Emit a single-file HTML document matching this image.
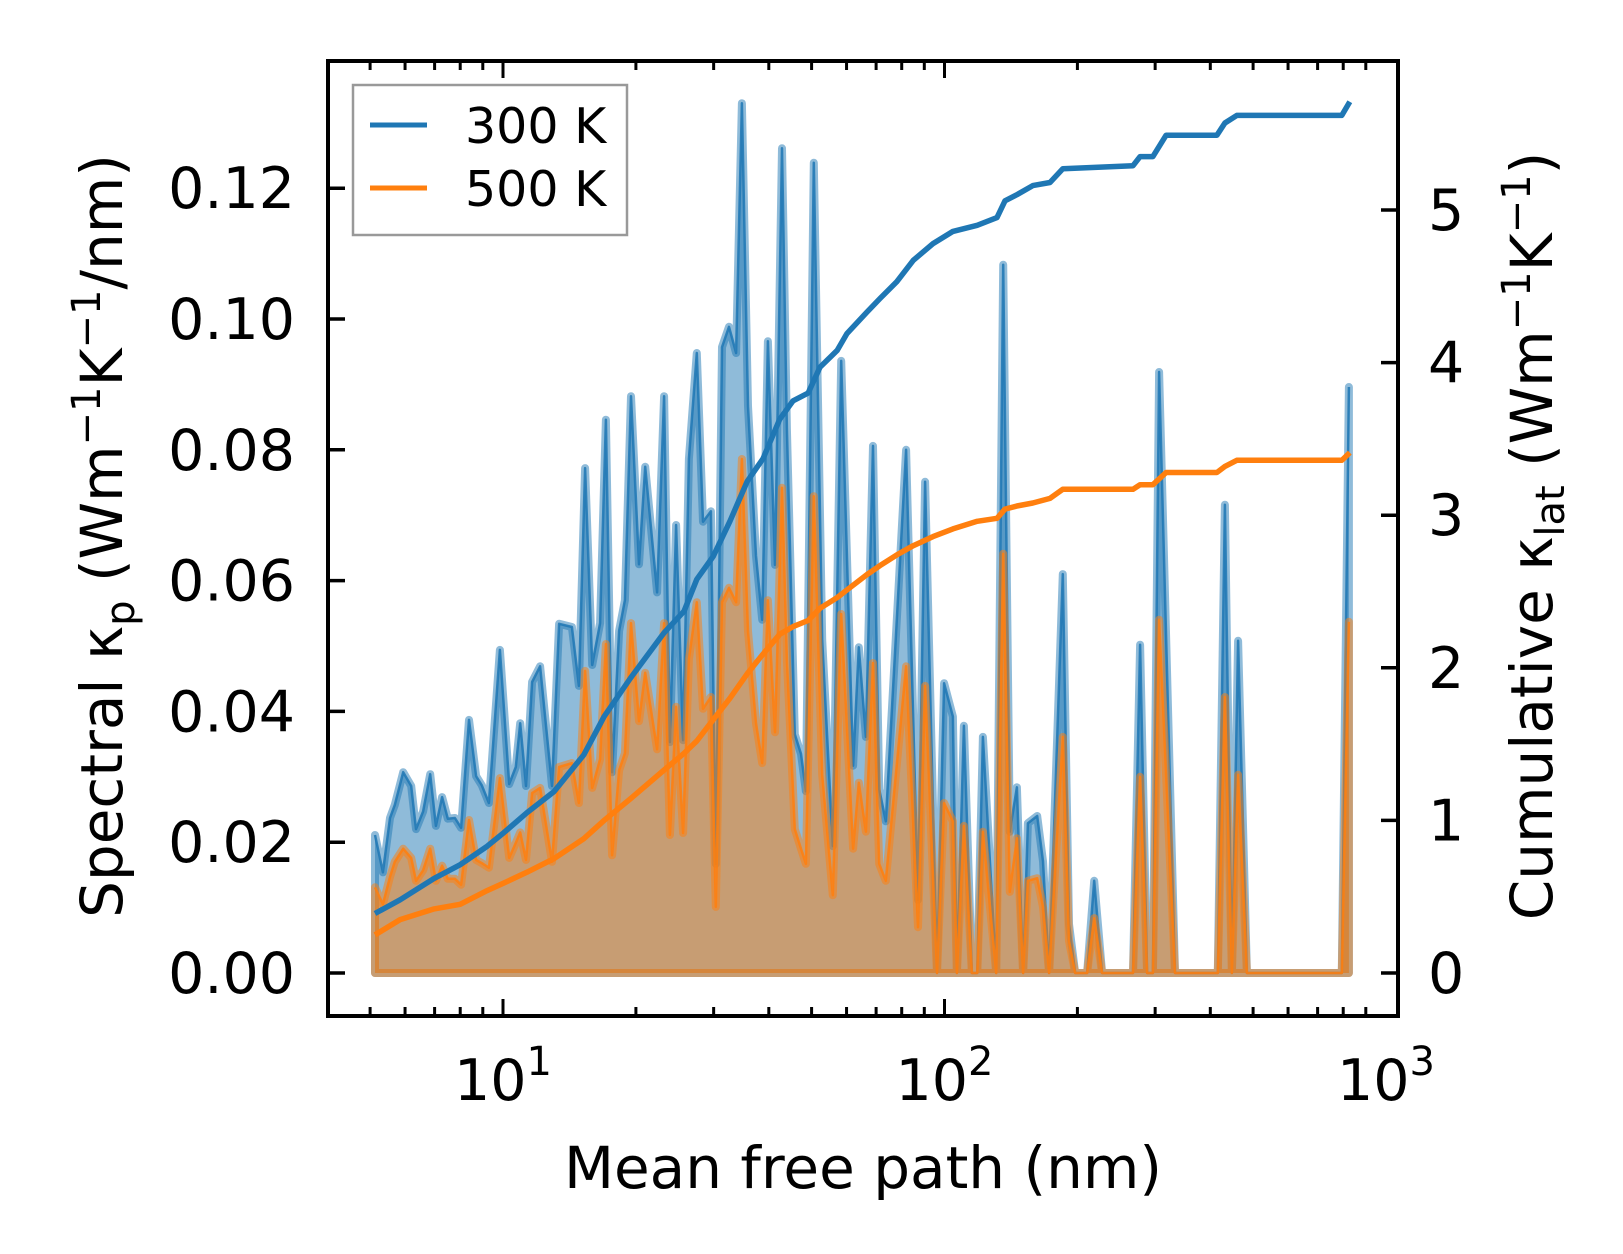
<!DOCTYPE html>
<html><head><meta charset="utf-8"><style>
html,body{margin:0;padding:0;background:#fff;}
svg{display:block;font-family:"DejaVu Sans","Liberation Sans",sans-serif;}
</style></head><body>
<svg id="chart" width="1623" height="1254" viewBox="0 0 1623 1254" xmlns="http://www.w3.org/2000/svg">
<g id="marks"></g>
<g id="axes"></g>
<text x="863" y="1188" font-size="58" text-anchor="middle">Mean free path (nm)</text>
<text transform="translate(122,536) rotate(-90)" font-size="58" text-anchor="middle">Spectral κ<tspan font-size="40" dy="12">p</tspan><tspan dy="-12"> (Wm</tspan><tspan font-size="40" dy="-22">−1</tspan><tspan dy="22">K</tspan><tspan font-size="40" dy="-22">−1</tspan><tspan dy="22">/nm)</tspan></text>
<text transform="translate(1552,536) rotate(-90)" font-size="58" text-anchor="middle">Cumulative κ<tspan font-size="40" dy="12">lat</tspan><tspan dy="-12"> (Wm</tspan><tspan font-size="40" dy="-22">−1</tspan><tspan dy="22">K</tspan><tspan font-size="40" dy="-22">−1</tspan><tspan dy="22">)</tspan></text>
<g>
<rect x="353" y="85" width="274" height="150" fill="#fff" fill-opacity="0.8" stroke="#999" stroke-width="2.5"/>
<line x1="370" y1="125" x2="427" y2="125" stroke="#1f77b4" stroke-width="5"/>
<text x="465" y="143" font-size="49">300 K</text>
<line x1="370" y1="188" x2="427" y2="188" stroke="#ff7f0e" stroke-width="5"/>
<text x="465" y="206" font-size="49">500 K</text>
</g>
</svg>
<script>
// spectral data: log10(mean free path / nm)
const logMfp = [0.710,0.728,0.744,0.755,0.774,0.792,0.803,0.819,0.835,0.848,0.862,0.875,0.891,0.905,0.923,0.939,0.952,0.968,0.993,1.014,1.029,1.039,1.052,1.066,1.084,1.111,1.127,1.156,1.172,1.186,1.202,1.220,1.233,1.247,1.263,1.276,1.290,1.308,1.322,1.349,1.365,1.378,1.392,1.408,1.421,1.439,1.453,1.471,1.482,1.496,1.512,1.528,1.541,1.555,1.573,1.587,1.600,1.616,1.632,1.643,1.661,1.675,1.686,1.704,1.723,1.747,1.766,1.793,1.806,1.822,1.838,1.852,1.867,1.913,1.940,1.956,1.983,1.999,2.019,2.028,2.044,2.062,2.074,2.087,2.117,2.133,2.148,2.164,2.178,2.189,2.210,2.223,2.237,2.268,2.282,2.296,2.323,2.339,2.357,2.427,2.443,2.459,2.472,2.486,2.522,2.619,2.635,2.651,2.665,2.685,2.900,2.916];
const spec300 = [.0211,.0154,.0237,.0257,.0307,.0286,.0220,.0247,.0304,.0225,.0269,.0236,.0237,.0222,.0387,.0301,.0287,.0260,.0494,.0289,.0315,.0382,.0286,.0445,.0469,.0286,.0534,.0529,.0439,.0772,.0471,.0535,.0846,.0307,.0523,.0570,.0882,.0625,.0774,.0582,.0882,.0353,.0685,.0356,.0786,.0948,.0690,.0706,.0167,.0957,.0988,.0948,.1330,.0867,.0638,.0540,.0966,.0624,.1261,.0832,.0365,.0335,.0278,.1239,.0509,.0194,.0936,.0317,.0498,.0361,.0806,.0281,.0232,.0800,.0112,.0751,0,.0443,.0392,0,.0378,0,0,.0361,0,.1083,.0216,.0284,0,.0229,.0240,.0171,0,.0610,.0075,0,0,.0141,0,0,.0502,0,0,.0919,0,0,.0716,0,.0508,0,0,.0896];
const spec500 = [.0131,.0105,.0147,.0170,.0190,.0176,.0141,.0157,.0190,.0141,.0164,.0144,.0144,.0135,.0234,.0173,.0168,.0161,.0298,.0176,.0199,.0215,.0173,.0275,.0283,.0170,.0315,.0321,.0260,.0462,.0283,.0327,.0503,.0180,.0310,.0336,.0535,.0385,.0459,.0342,.0535,.0211,.0407,.0214,.0480,.0567,.0404,.0422,.0101,.0567,.0589,.0567,.0786,.0523,.0382,.0321,.0570,.0368,.0742,.0479,.0220,.0190,.0167,.0729,.0303,.0119,.0549,.0190,.0291,.0216,.0474,.0167,.0141,.0469,.0070,.0439,0,.0260,.0232,0,.0225,0,0,.0216,0,.0641,.0124,.0206,0,.0141,.0145,.0101,0,.0361,.0049,0,0,.0084,0,0,.0300,0,0,.0540,0,0,.0422,0,.0303,0,0,.0537];
// cumulative data
const cumLogMfp = [0.710,0.767,0.844,0.903,0.964,1.002,1.054,1.116,1.183,1.229,1.288,1.365,1.410,1.439,1.476,1.514,1.553,1.589,1.627,1.657,1.691,1.718,1.757,1.779,1.824,1.854,1.892,1.929,1.974,2.019,2.074,2.119,2.137,2.164,2.200,2.239,2.268,2.427,2.443,2.472,2.502,2.617,2.635,2.662,2.900,2.918];
const cum300 = [.39,.48,.62,.71,.83,.92,1.05,1.19,1.43,1.68,1.93,2.23,2.37,2.58,2.73,2.96,3.22,3.37,3.63,3.75,3.80,3.97,4.08,4.19,4.33,4.42,4.53,4.67,4.78,4.86,4.90,4.95,5.06,5.10,5.16,5.18,5.27,5.29,5.35,5.35,5.49,5.49,5.57,5.62,5.62,5.71];
const cum500 = [.25,.35,.42,.45,.54,.59,.66,.75,.88,1.00,1.14,1.33,1.44,1.52,1.66,1.80,1.96,2.09,2.22,2.27,2.31,2.39,2.46,2.51,2.61,2.67,2.74,2.80,2.86,2.91,2.96,2.98,3.04,3.06,3.08,3.11,3.17,3.17,3.20,3.20,3.28,3.28,3.32,3.36,3.36,3.41];
const leftTicks = [0,0.02,0.04,0.06,0.08,0.10,0.12];
const leftTickLabels = ["0.00","0.02","0.04","0.06","0.08","0.10","0.12"];
const rightTicks = [0,1,2,3,4,5];
const xMajorExp = [1,2,3];

const NS = "http://www.w3.org/2000/svg";
const X0 = 503, DEC = 441.5, Y0 = 973;
const xs = L => X0 + (L - 1) * DEC;
const yl = v => Y0 - v / 0.02 * 130.8;
const yr = v => Y0 - v * 152.6;
const FL = 328, FR = 1398, FT = 61, FB = 1016;
const marks = document.getElementById('marks');
const axes = document.getElementById('axes');
function mk(tag, attrs, parent) {
  const e = document.createElementNS(NS, tag);
  for (const k in attrs) e.setAttribute(k, attrs[k]);
  parent.appendChild(e);
  return e;
}
function areaPts(vals) {
  let p = xs(logMfp[0]).toFixed(1) + ',' + yl(0).toFixed(1);
  for (let i = 0; i < logMfp.length; i++) p += ' ' + xs(logMfp[i]).toFixed(1) + ',' + yl(vals[i]).toFixed(1);
  p += ' ' + xs(logMfp[logMfp.length - 1]).toFixed(1) + ',' + yl(0).toFixed(1);
  return p;
}
function linePts(vals) {
  return logMfp.map((L, i) => xs(L).toFixed(1) + ',' + yl(vals[i]).toFixed(1)).join(' ');
}
[[spec300, '#1f77b4', '300k'], [spec500, '#ff7f0e', '500k']].forEach(([vals, c, n]) => {
  const a = mk('polygon', {points: areaPts(vals), fill: c, 'fill-opacity': 0.5, stroke: c, 'stroke-opacity': 0.5, 'stroke-width': 8, 'stroke-linejoin': 'round'}, marks);
  
  
  const l = mk('polyline', {points: linePts(vals), fill: 'none', stroke: c, 'stroke-opacity': 0.85, 'stroke-width': 2.5, 'stroke-linejoin': 'round'}, marks);
  
  
});
[[cum300, '#1f77b4', '300k'], [cum500, '#ff7f0e', '500k']].forEach(([vals, c, n]) => {
  const pts = cumLogMfp.map((L, i) => xs(L).toFixed(1) + ',' + yr(vals[i]).toFixed(1)).join(' ');
  const l = mk('polyline', {points: pts, fill: 'none', stroke: c, 'stroke-width': 5.5, 'stroke-linejoin': 'round'}, marks);
  
  
});
// frame
const fr = mk('rect', {x: FL, y: FT, width: FR - FL, height: FB - FT, fill: 'none', stroke: '#000', 'stroke-width': 4}, axes);


// left ticks
leftTicks.forEach((v, i) => {
  const y = yl(v);
  const t = mk('line', {x1: FL, x2: FL + 17, y1: y, y2: y, stroke: '#000', 'stroke-width': 3.5}, axes);
  
  
  const tx = mk('text', {x: 295, y: y + 20, 'font-size': 57, 'text-anchor': 'end'}, axes);
  tx.textContent = leftTickLabels[i];
  
  
});
rightTicks.forEach(v => {
  const y = yr(v);
  const t = mk('line', {x1: FR - 17, x2: FR, y1: y, y2: y, stroke: '#000', 'stroke-width': 3.5}, axes);
  
  
  const tx = mk('text', {x: 1428, y: y + 20, 'font-size': 57}, axes);
  tx.textContent = String(v);
  
  
});
// x ticks
for (let e = 0; e <= 2; e++) {
  for (let m = 1; m <= 9; m++) {
    const L = e + Math.log10(m);
    const x = xs(L);
    if (x < FL + 2 || x > FR - 2) continue;
    const len = m === 1 ? 17 : 9;
    const b = mk('line', {x1: x, x2: x, y1: FB, y2: FB - len, stroke: '#000', 'stroke-width': 3}, axes);
    
    
    const t = mk('line', {x1: x, x2: x, y1: FT, y2: FT + len, stroke: '#000', 'stroke-width': 3}, axes);
    
    
  }
}
xMajorExp.forEach(e => {
  const x = xs(e);
  const tx = mk('text', {x: x, y: 1100, 'font-size': 57, 'text-anchor': 'middle'}, axes);
  
  
  const a = document.createElementNS(NS, 'tspan'); a.textContent = '10'; tx.appendChild(a);
  const s = document.createElementNS(NS, 'tspan'); s.setAttribute('font-size', 40); s.setAttribute('dy', -25); s.textContent = String(e); tx.appendChild(s);
});
</script>
</body></html>
